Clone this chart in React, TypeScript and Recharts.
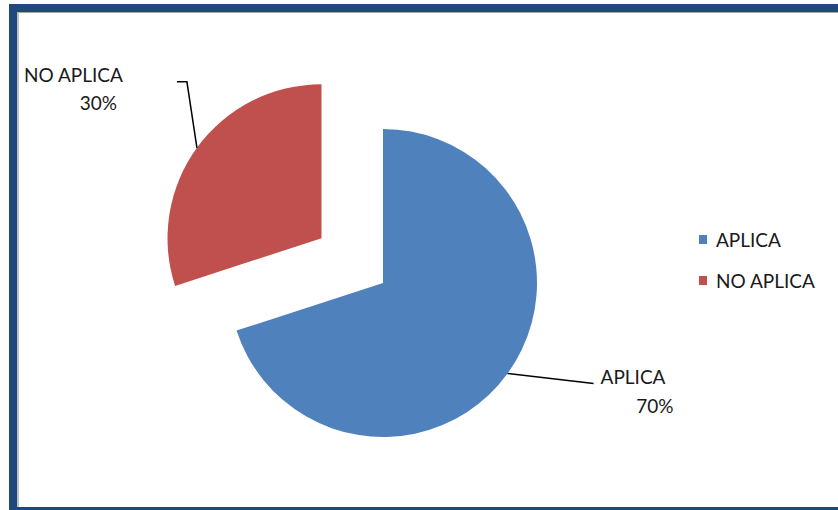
import { Cell, Legend, Pie, PieChart } from "recharts";

const categories = ["APLICA", "NO APLICA"];
const values = [70, 30];
const colors = ["#4F81BD", "#C0504D"];
const explodedIndex = 1;

const RADIAN = Math.PI / 180;
const FONT = "Lato, 'Noto Sans', sans-serif";
const TEXT = "#1a1a1a";

const data = categories.map((name, i) => ({ name, value: values[i] }));

const cx = 383;
const cy = 283;
const radius = 154;
const explode = 76;

// mid angle of the pulled-out slice (clockwise from 12 o'clock)
const total = values.reduce((a, b) => a + b, 0);
const before = values.slice(0, explodedIndex).reduce((a, b) => a + b, 0);
const explodedMid = 90 - (360 * (before + values[explodedIndex] / 2)) / total;
const dx = explode * Math.cos(explodedMid * RADIAN);
const dy = -explode * Math.sin(explodedMid * RADIAN);

function renderLabel(visibleIndex: number) {
	return (props: any) => {
		const { cx: x0, cy: y0, midAngle, outerRadius, index, percent, name } = props;
		if (index !== visibleIndex) return null;
		const px = x0 + outerRadius * Math.cos(-midAngle * RADIAN);
		const py = y0 + outerRadius * Math.sin(-midAngle * RADIAN);
		const pct = `${Math.round(percent * 100)}%`;
		if (index === 0) {
			return (
				<g>
					<path
						d={`M${px},${py} L${px + 86},${py + 10}`}
						stroke="#000"
						strokeWidth={1.5}
						fill="none"
					/>
					<text x={px + 93} y={py + 10} fill={TEXT} fontFamily={FONT} fontSize={19}>
						{name}
					</text>
					<text
						x={px + 166}
						y={py + 39}
						fill={TEXT}
						fontFamily={FONT}
						fontSize={19}
						textAnchor="end"
					>
						{pct}
					</text>
				</g>
			);
		}
		return (
			<g>
				<path
					d={`M${px},${py} L${px - 10},${py - 66} L${px - 20},${py - 66}`}
					stroke="#000"
					strokeWidth={1.5}
					fill="none"
				/>
				<text
					x={px - 74}
					y={py - 66}
					fill={TEXT}
					fontFamily={FONT}
					fontSize={19}
					textAnchor="end"
				>
					{name}
				</text>
				<text
					x={px - 80}
					y={py - 38}
					fill={TEXT}
					fontFamily={FONT}
					fontSize={19}
					textAnchor="end"
				>
					{pct}
				</text>
			</g>
		);
	};
}

function LegendBox() {
	return (
		<div style={{ fontFamily: FONT, fontSize: 19, color: TEXT }}>
			{categories.map((c, i) => (
				<div
					key={c}
					style={{ display: "flex", alignItems: "center", height: 41 }}
				>
					<span
						style={{
							display: "inline-block",
							width: 8,
							height: 9,
							background: colors[i],
							marginRight: 9,
						}}
					/>
					<span>{c}</span>
				</div>
			))}
		</div>
	);
}

export default function App() {
	return (
		<div style={{ position: "absolute", left: 0, top: 0, width: 838, height: 510, background: "#fff" }}>
			<div
				style={{
					position: "absolute",
					left: 9,
					top: 4,
					width: 829,
					height: 506,
					boxSizing: "border-box",
					borderLeft: "8px solid #1F497D",
					borderTop: "8px solid #1F497D",
					borderBottom: "3px solid #1F497D",
				}}
			>
				<div
					style={{
						width: "100%",
						height: "100%",
						boxSizing: "border-box",
						borderLeft: "2px solid #BFBFBF",
						borderTop: "1px solid #A6A6A6",
					}}
				/>
			</div>
			<div style={{ position: "absolute", left: 0, top: 0 }}>
				<PieChart
					width={838}
					height={510}
					margin={{ top: 0, right: 0, bottom: 0, left: 0 }}
				>
					<Pie
						data={data}
						dataKey="value"
						nameKey="name"
						cx={cx}
						cy={cy}
						outerRadius={radius}
						startAngle={90}
						endAngle={-270}
						stroke="none"
						isAnimationActive={false}
						labelLine={false}
						label={renderLabel(0)}
					>
						{data.map((d, i) => (
							<Cell key={d.name} fill={i === explodedIndex ? "none" : colors[i]} />
						))}
					</Pie>
					<Pie
						data={data}
						dataKey="value"
						nameKey="name"
						cx={cx + dx}
						cy={cy + dy}
						outerRadius={radius}
						startAngle={90}
						endAngle={-270}
						stroke="none"
						isAnimationActive={false}
						labelLine={false}
						label={renderLabel(explodedIndex)}
					>
						{data.map((d, i) => (
							<Cell key={d.name} fill={i === explodedIndex ? colors[i] : "none"} />
						))}
					</Pie>
					<Legend
						layout="vertical"
						align="right"
						verticalAlign="middle"
						content={() => <LegendBox />}
						wrapperStyle={{ left: 699, top: 219, right: "auto", width: 130 }}
					/>
				</PieChart>
			</div>
		</div>
	);
}
